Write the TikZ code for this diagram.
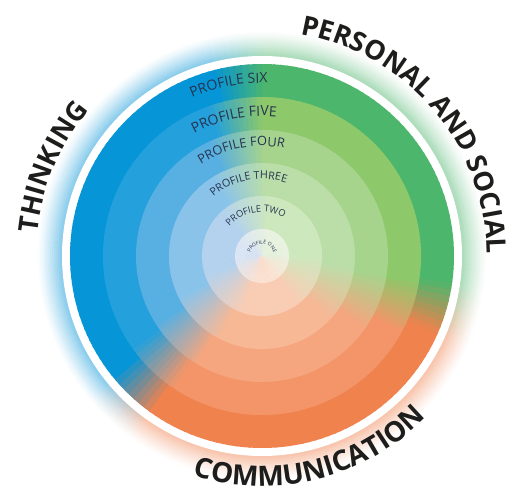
\documentclass[tikz,border=0pt]{standalone}
\usepackage{fontspec}
\setmainfont{Open Sans}
\usetikzlibrary{decorations.text}

\definecolor{b1}{RGB}{221,230,244}
\definecolor{b2}{RGB}{180,210,238}
\definecolor{b3}{RGB}{138,195,234}
\definecolor{b4}{RGB}{88,175,226}
\definecolor{b5}{RGB}{36,160,221}
\definecolor{b6}{RGB}{6,149,215}
\definecolor{g1}{RGB}{234,243,226}
\definecolor{g2}{RGB}{206,232,190}
\definecolor{g3}{RGB}{187,222,168}
\definecolor{g4}{RGB}{166,212,140}
\definecolor{g5}{RGB}{141,200,106}
\definecolor{g6}{RGB}{76,182,108}
\definecolor{o1}{RGB}{252,226,210}
\definecolor{o2}{RGB}{249,205,180}
\definecolor{o3}{RGB}{247,184,150}
\definecolor{o4}{RGB}{245,166,127}
\definecolor{o5}{RGB}{243,149,104}
\definecolor{o6}{RGB}{240,130,78}
\definecolor{labelink}{RGB}{29,29,27}
\definecolor{profileink}{RGB}{38,52,80}

% #1 result, #2 angle, #3 sector start, #4 sector width
\newcommand{\sectorweight}[4]{%
  \pgfmathsetmacro\relang{mod(#2-(#3)+720,360)}%
  \pgfmathsetmacro\relang{ifthenelse(\relang>180+(#4)/2,\relang-360,\relang)}%
  \pgfmathsetmacro#1{max(0,min(1,min(\relang,(#4)-\relang)/(2*\hw)+0.5))}%
}
% #1 ring, #2 angle
\newcommand{\wedgecolor}[2]{%
  \sectorweight{\wgreen}{#2}{\go}{\bg-(\go)}%
  \sectorweight{\wblue}{#2}{\bg}{\ob-(\bg)}%
  \pgfmathsetmacro\wbg{max(\wblue+\wgreen,0.001)}%
  \pgfmathtruncatemacro\pb{100*\wblue/\wbg}%
  \pgfmathtruncatemacro\pbg{100*\wbg}%
  \colorlet{tmpA}{b#1!\pb!g#1}%
  \colorlet{wedge}{tmpA!\pbg!o#1}%
}

\begin{document}
\begin{tikzpicture}[x=1pt, y=1pt]
        \useasboundingbox (-262,-236) rectangle (256,256);

        % soft glow
        \def\hw{8} \def\bg{96} \def\go{-17} \def\ob{226}
        \foreach \a in {0,2,...,358}
        {
                \wedgecolor{6}{\a}
                \xglobal\colorlet{glow\a}{wedge}
        }
        \foreach \hr/\hp in {224/2, 222/5, 220/8, 218/12, 216/16, 214/20, 212/24, 210/28, 208/33, 206/37, 204/42, 202/46, 200/50}
        {
                \foreach \a in {0,2,...,358}
                        \fill [glow\a!\hp!white] (0,0) -- (\a:\hr) arc [start angle=\a, end angle=\a+2.6, radius=\hr] -- cycle;
        }

        \fill [white] (0,0) circle [radius = 200];

        % rings
        \foreach \k/\r/\hw/\bg/\go/\ob in {6/192/8/96/-17/226, 5/159/10/99/-20/225, 4/126/13/101/-23/225, 3/93/18/104/-26/224, 2/60/26/106/-29/224, 1/27/38/108/-32/224}
        {
                \foreach \a in {0,2,...,358}
                {
                        \wedgecolor{\k}{\a}
                        \fill [wedge] (0,0) -- (\a:\r) arc [start angle=\a, end angle=\a+2.6, radius=\r] -- cycle;
                }
        }

        % profile labels
        \path [decorate, decoration={text along path, text align=center, text color=profileink,
                text={|\fontsize{14}{16}\selectfont|PROFILE SIX}}]
                (131:173) arc [start angle=131, end angle=71, radius=173];
        \path [decorate, decoration={text along path, text align=center, text color=profileink,
                text={|\fontsize{14}{16}\selectfont|PROFILE FIVE}}]
                (136.5:140) arc [start angle=136.5, end angle=66.5, radius=140];
        \path [decorate, decoration={text along path, text align=center, text color=profileink,
                text={|\fontsize{12.8}{15}\selectfont|PROFILE FOUR}}]
                (141:110) arc [start angle=141, end angle=61, radius=110];
        \path [decorate, decoration={text along path, text align=center, text color=profileink,
                text={|\fontsize{10.8}{13}\selectfont|PROFILE THREE}}]
                (150.5:77) arc [start angle=150.5, end angle=50.5, radius=77];
        \path [decorate, decoration={text along path, text align=center, text color=profileink,
                text={|\fontsize{9.3}{11}\selectfont|PROFILE TWO}}]
                (169:44) arc [start angle=169, end angle=29, radius=44];
        \path [decorate, decoration={text along path, text align=center, text color=profileink,
                text={|\fontsize{5}{6}\selectfont|PROFILE ONE}}]
                (190:12) arc [start angle=190, end angle=-10, radius=12];

        % competency labels
        \path [decorate, decoration={text along path, text align=center, text color=labelink,
                text={|\bfseries\fontsize{27}{30}\selectfont|THINKING}}]
                (192:226) arc [start angle=192, end angle=122, radius=226];
        \path [decorate, decoration={text along path, text align=center, text color=labelink,
                text={|\bfseries\fontsize{27}{30}\selectfont|PERSONAL AND SOCIAL}}]
                (95.4:225) arc [start angle=95.4, end angle=-14.6, radius=225];
        \path [decorate, decoration={text along path, text align=center, text color=labelink,
                text={|\bfseries\fontsize{28}{31}\selectfont|COMMUNICATION}}]
                (238:230) arc [start angle=238, end angle=330, radius=230];
\end{tikzpicture}
\end{document}
